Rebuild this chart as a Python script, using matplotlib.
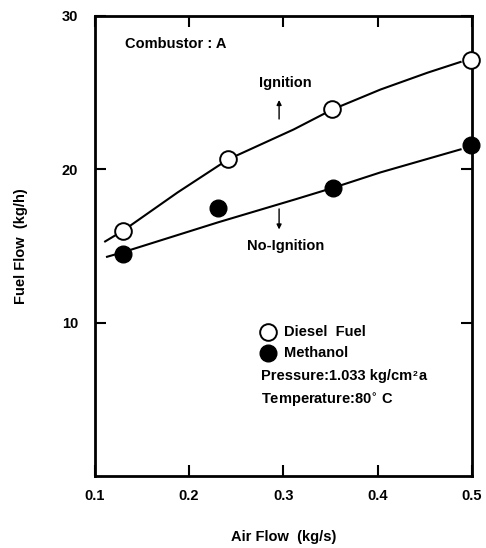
import matplotlib.pyplot as plt

plt.rcParams['font.family'] = ['Liberation Sans', 'DejaVu Sans']
plt.rcParams['font.weight'] = 'bold'

# measured points
diesel_x = [0.13, 0.2415, 0.352, 0.499]
diesel_y = [16.0, 20.65, 23.9, 27.1]
methanol_x = [0.13, 0.231, 0.353, 0.499]
methanol_y = [14.5, 17.5, 18.8, 21.6]

# hand-drawn boundary curves
upper_x = [0.111, 0.13, 0.188, 0.2415, 0.311, 0.352, 0.403, 0.453, 0.488]
upper_y = [15.3, 16.0, 18.5, 20.65, 22.6, 23.9, 25.2, 26.3, 27.0]
lower_x = [0.113, 0.13, 0.231, 0.313, 0.353, 0.403, 0.488]
lower_y = [14.3, 14.6, 16.55, 18.05, 18.8, 19.8, 21.3]

xticks = [0.1, 0.2, 0.3, 0.4, 0.5]
yticks = [10, 20, 30]

fig = plt.figure(figsize=(4.86, 5.48), dpi=100)
ax = fig.add_axes([0.195, 0.131, 0.776, 0.84])

ax.plot(upper_x, upper_y, color='black', lw=1.5)
ax.plot(lower_x, lower_y, color='black', lw=1.5)
ax.plot(diesel_x, diesel_y, 'o', ms=12, mfc='white', mec='black', mew=1.4,
        clip_on=False, zorder=5)
ax.plot(methanol_x, methanol_y, 'o', ms=12, mfc='black', mec='black',
        clip_on=False, zorder=5)

ax.set_xlim(0.1, 0.5)
ax.set_ylim(0, 30)
ax.set_xticks(xticks)
ax.set_xticklabels(['0.1', '0.2', '0.3', '0.4', '0.5'])
ax.set_yticks(yticks)
ax.tick_params(direction='in', length=8, width=1.5, top=True, right=True,
               labelsize=10.5)
ax.tick_params(axis='x', pad=9)
ax.tick_params(axis='y', pad=12)
for lbl in ax.get_xticklabels() + ax.get_yticklabels():
    lbl.set_fontweight('bold')
for s in ax.spines.values():
    s.set_linewidth(2)

ax.set_xlabel('Air Flow  (kg/s)', fontsize=10.5, fontweight='bold', labelpad=20)
ax.set_ylabel('Fuel Flow  (kg/h)', fontsize=10.5, fontweight='bold', labelpad=24)

ax.text(0.132, 28.2, 'Combustor : A', fontsize=10.5, fontweight='bold',
        va='center', ha='left')
ax.text(0.302, 25.6, 'Ignition', fontsize=10.5, fontweight='bold',
        ha='center', va='center')
ax.annotate('', xy=(0.2955, 24.7), xytext=(0.2955, 23.1),
            arrowprops=dict(arrowstyle='-|>', color='black', lw=1, mutation_scale=7))
ax.text(0.302, 15.0, 'No-Ignition', fontsize=10.5, fontweight='bold',
        ha='center', va='center')
ax.annotate('', xy=(0.2955, 15.9), xytext=(0.2955, 17.6),
            arrowprops=dict(arrowstyle='-|>', color='black', lw=1, mutation_scale=7))

# legend block
ax.plot([0.284], [9.4], 'o', ms=12, mfc='white', mec='black', mew=1.4)
ax.plot([0.284], [8.0], 'o', ms=12, mfc='black', mec='black')
ax.text(0.301, 9.4, 'Diesel  Fuel', fontsize=10.5, fontweight='bold', va='center')
ax.text(0.301, 8.0, 'Methanol', fontsize=10.5, fontweight='bold', va='center')
ax.text(0.276, 6.55, 'Pressure:1.033 kg/cm', fontsize=10.5,
        fontweight='bold', va='center')
ax.text(0.4375, 6.65, '2', fontsize=6, fontweight='bold', va='center')
ax.text(0.4435, 6.55, 'a', fontsize=10.5, fontweight='bold', va='center')
ax.text(0.276, 5.0, 'Temperature:80$^{\\circ}$ C', fontsize=10.5,
        fontweight='bold', va='center')

fig.savefig('out.png', dpi=100)
